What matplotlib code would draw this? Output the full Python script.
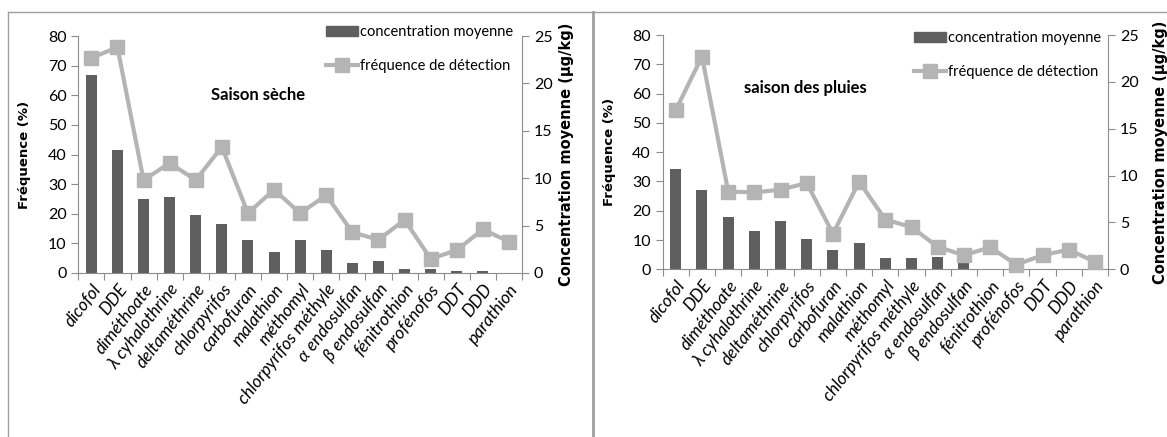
import numpy as np
import matplotlib.pyplot as plt
from matplotlib.lines import Line2D
from matplotlib.patches import Patch

plt.rcParams['font.family'] = ['Lato', 'DejaVu Sans']

pesticides = ['dicofol', 'DDE', 'diméthoate', 'λ cyhalothrine', 'deltaméthrine',
              'chlorpyrifos', 'carbofuran', 'malathion', 'méthomyl',
              'chlorpyrifos méthyle', 'α endosulfan', 'β endosulfan',
              'fénitrothion', 'profénofos', 'DDT', 'DDD', 'parathion']

# dry season (bars read on left scale, line on right scale)
conc_seche = [66.8, 41.5, 25.0, 25.5, 19.5, 16.4, 11.2, 7.2, 11.2, 7.8,
              3.5, 4.1, 1.5, 1.5, 0.8, 0.8, 0.0]
freq_seche = [22.7, 23.8, 9.8, 11.6, 9.8, 13.3, 6.3, 8.8, 6.3, 8.2,
              4.3, 3.5, 5.6, 1.5, 2.4, 4.6, 3.3]

# rainy season
conc_pluies = [34.1, 27.1, 18.0, 13.1, 16.5, 10.3, 6.6, 8.9, 3.8, 3.8,
               4.3, 3.0, 0.0, 0.0, 0.0, 0.0, 0.0]
freq_pluies = [17.0, 22.7, 8.3, 8.2, 8.5, 9.2, 3.8, 9.35, 5.3, 4.5,
               2.4, 1.5, 2.35, 0.5, 1.5, 2.1, 0.8]

BAR_C = '#5f5f5f'
LINE_C = '#b4b4b4'
AX_C = '#8c8c8c'

fig = plt.figure(figsize=(11.67, 4.37), dpi=100)

# panel frames
fig.add_artist(Line2D([8/1167, 8/1167], [0, 1 - 12/437], color='#a0a0a0', lw=1))
fig.add_artist(Line2D([8/1167, 1], [1 - 12/437, 1 - 12/437], color='#a0a0a0', lw=1))
fig.add_artist(Line2D([593/1167, 593/1167], [0, 1 - 12/437], color='#a0a0a0', lw=2))


def panel(rect, conc, freq, title, title_xy, leg_xy, ylab_x, rlab_x):
    ax = fig.add_axes(rect)
    x = np.arange(len(pesticides))
    ax.bar(x, conc, width=0.42, color=BAR_C, zorder=2)
    ax.set_ylim(0, 80)
    ax.set_yticks(np.arange(0, 81, 10))
    ax.set_xlim(-0.5, len(pesticides) - 0.5)
    ax.set_xticks(np.arange(-0.5, len(pesticides)), minor=False)
    ax.set_xticklabels([])
    ax.set_xticks(x, minor=True)
    ax.set_xticklabels(pesticides, minor=True, rotation=52, ha='right',
                       rotation_mode='anchor', style='italic', fontsize=12.5)
    ax.tick_params(axis='x', which='minor', length=0, pad=6)
    ax.tick_params(axis='x', which='major', length=5, color=AX_C)
    ax.tick_params(axis='y', length=5, color=AX_C, labelsize=11.5)
    for s in ['top', 'right']:
        ax.spines[s].set_visible(False)
    for s in ['left', 'bottom']:
        ax.spines[s].set_color(AX_C)

    ax2 = ax.twinx()
    ax2.plot(x, freq, color=LINE_C, lw=3, marker='s', markersize=10,
             zorder=3, clip_on=False)
    ax2.set_ylim(0, 25)
    ax2.set_yticks(np.arange(0, 26, 5))
    ax2.tick_params(axis='y', length=5, color=AX_C, labelsize=11.5)
    for s in ['top', 'left', 'bottom']:
        ax2.spines[s].set_visible(False)
    ax2.spines['right'].set_color(AX_C)

    fig.text(ylab_x / 1167, rect[1] + rect[3] / 2, 'Fréquence (%)', rotation=90,
             ha='center', va='center', fontweight='bold', fontsize=9.5,
             family='DejaVu Sans')
    fig.text(rlab_x / 1167, rect[1] + rect[3] / 2, 'Concentration moyenne (µg/kg)',
             rotation=90, ha='center', va='center', fontweight='bold',
             fontsize=10.5, family='DejaVu Sans')
    fig.text(title_xy[0] / 1167, 1 - title_xy[1] / 437, title, ha='center',
             va='center', fontweight='bold', fontsize=12)

    handles = [Patch(color=BAR_C),
               Line2D([], [], color=LINE_C, lw=3, marker='s', markersize=10)]
    fig.legend(handles, ['concentration moyenne', 'fréquence de détection'],
               loc='upper left', bbox_to_anchor=(leg_xy[0] / 1167, 1 - leg_xy[1] / 437),
               frameon=False, fontsize=10.5, handlelength=2.2, handletextpad=0.15,
               labelspacing=1.35, borderpad=0, borderaxespad=0)
    return ax


panel([78.3/1167, 1 - 273/437, 443.7/1167, 237/437], conc_seche, freq_seche,
      'Saison sèche', (258, 95), (326, 25), 25, 567)
panel([662.7/1167, 1 - 269.3/437, 445.3/1167, 234.3/437], conc_pluies, freq_pluies,
      'saison des pluies', (805, 88), (914, 31), 610, 1160)

fig.savefig('out.png', dpi=100)
